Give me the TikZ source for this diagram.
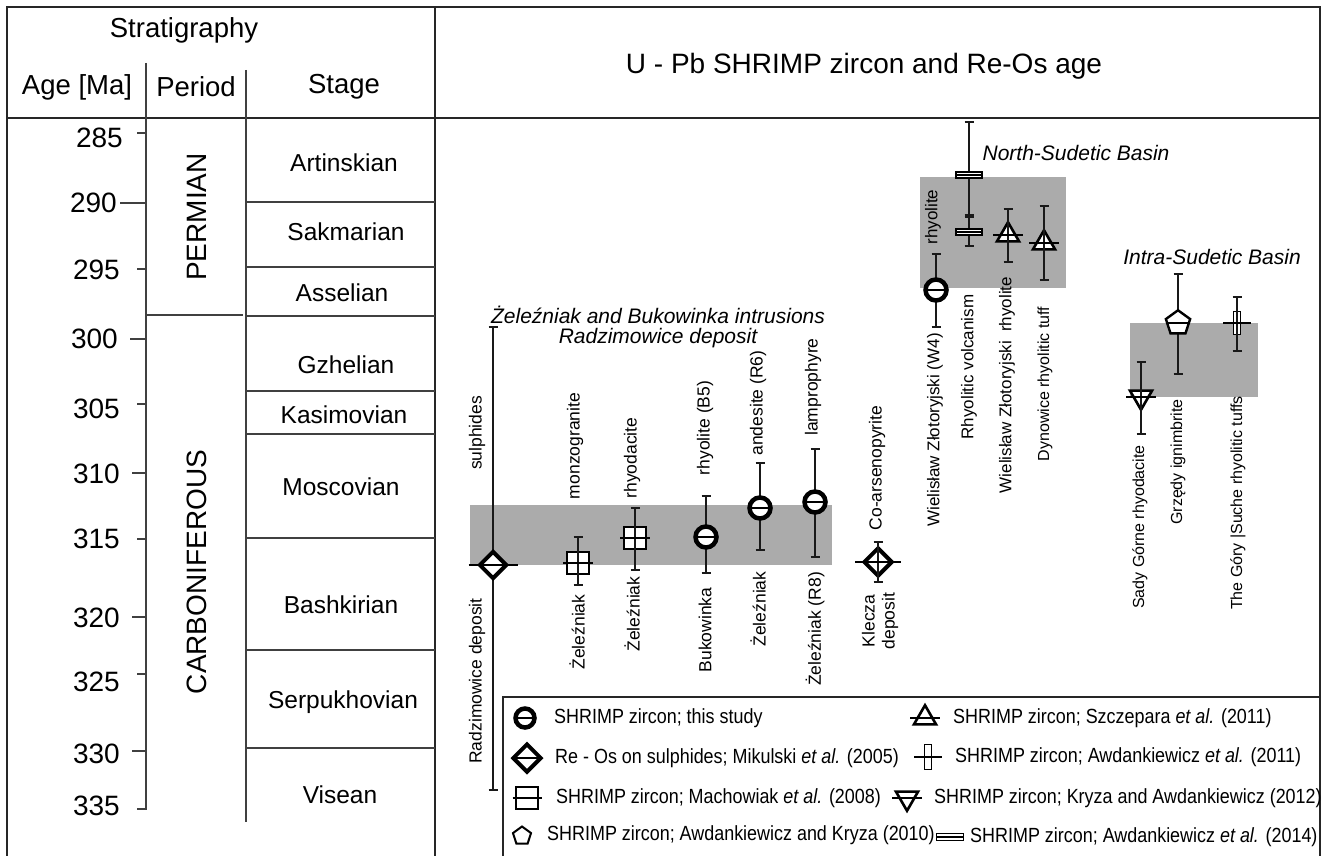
\documentclass[tikz,border=0pt]{standalone}
\usepackage{fontspec}
\setmainfont{Liberation Sans}
\newfontfamily\narrowfont{Liberation Sans}[FakeStretch=0.875]
\usetikzlibrary{shapes.geometric}
\newcommand\ebar[4]{%
  \coordinate (#1t) at (#2,#3);
  \coordinate (#1b) at (#2,#4);
  \draw[bar] (#1t) -- (#1b);
  \draw[bar] ([xshift=-4.5pt]#1t) -- ([xshift=4.5pt]#1t);
  \draw[bar] ([xshift=-4.5pt]#1b) -- ([xshift=4.5pt]#1b);}
\newcommand\midline[2]{%
  \draw[hl] ([xshift=-#2pt]#1.center) -- ([xshift=#2pt]#1.center);}
\begin{document}
\begin{tikzpicture}[x=1pt,y=-1pt,
  frame/.style={line width=2pt, draw=black!85},
  tbl/.style={line width=1.5pt, draw=black!75},
  bar/.style={line width=1.4pt, draw=black!90},
  hl/.style={line width=1.2pt, draw=black},
  band/.style={fill=black!33},
  big/.style={font=\fontsize{27.5}{30}\selectfont},
  num/.style={font=\fontsize{28}{30}\selectfont, anchor=east, inner sep=0pt},
  stage/.style={font=\fontsize{24.5}{28}\selectfont},
  per/.style={font=\fontsize{28}{30}\selectfont, rotate=90},
  ttl/.style={font=\fontsize{21}{25}\selectfont\itshape},
  lab/.style={font=\fontsize{17.5}{20}\selectfont, rotate=90, inner sep=0pt},
  labn/.style={font=\fontsize{17}{20}\selectfont, rotate=90, inner sep=0pt},
  labi/.style={font=\fontsize{16}{20}\selectfont, rotate=90, inner sep=0pt},
  leg/.style={font=\narrowfont\fontsize{20.5}{24}\selectfont, anchor=west, inner sep=0pt},
  circ/.style={circle, draw, line width=4.5pt, fill=white, minimum size=21pt, inner sep=0pt},
  dia/.style={diamond, draw, line width=4pt, fill=white, minimum width=28pt, minimum height=28pt, inner sep=0pt},
  sqr/.style={rectangle, draw, line width=1.3pt, fill=white, minimum size=22pt, inner sep=0pt},
  tri/.style={regular polygon, regular polygon sides=3, draw, line width=2.6pt, fill=white, minimum size=25.5pt, inner sep=0pt},
  itri/.style={tri, shape border rotate=180},
  pent/.style={regular polygon, regular polygon sides=5, draw, line width=2.4pt, fill=white, minimum size=25.5pt, inner sep=0pt},
  vrec/.style={rectangle, draw, line width=1.3pt, fill=white, minimum width=7pt, minimum height=23pt, inner sep=0pt},
  hrec/.style={rectangle, draw, line width=1.3pt, fill=white, minimum width=26pt, minimum height=6pt, inner sep=0pt}]
\useasboundingbox (0,0) rectangle (1327,856);
\fill[white] (0,0) rectangle (1327,856);

% ---------- frame ----------
\draw[frame] (7,856) -- (7,7) -- (1320,7) -- (1320,856);
\draw[frame] (435,7) -- (435,856);
\draw[frame] (7,118) -- (1320,118);

% ---------- stratigraphy table ----------
\node[big] (strat) at (184,30) {Stratigraphy};
\node[big] (agehd) at (77,87) {Age [Ma]};
\node[big] (perhd) at (196,87) {Period};
\node[big] (stghd) at (344,87) {Stage};
\draw[tbl] (146,63) -- (146,810);
\draw[tbl] (246,70) -- (246,822);
\draw[tbl] (146,315) -- (243,315);
\foreach \yy in {202,267,316,391,434,538,650,748}
  \draw[tbl] (246,\yy) -- (435,\yy);
\foreach \yy/\xx in {133/137,203/120,269/137,339/130,404/137,473/132,539/137,617/132,674/137,751/132,809/137}
  \draw[tbl] (\xx,\yy) -- (146,\yy);
\foreach \v/\yy/\xx in {285/138/123,290/203/117,295/270/120,300/339/118,305/409/120,310/474/120,315/539/120,320/618/120,325/682/120,330/754/120,335/806/120}
  \node[num] (age\v) at (\xx,\yy) {\v};
\node[per] (perm) at (197,217) {PERMIAN};
\node[per] (carb) at (197,572) {CARBONIFEROUS};
\node[stage] (st1) at (344,163) {Artinskian};
\node[stage] (st2) at (346,232) {Sakmarian};
\node[stage] (st3) at (342,293) {Asselian};
\node[stage] (st4) at (346,365) {Gzhelian};
\node[stage] (st5) at (344,415) {Kasimovian};
\node[stage] (st6) at (341,487) {Moscovian};
\node[stage] (st7) at (341,605) {Bashkirian};
\node[stage] (st8) at (343,702) {Serpukhovian};
\node[stage] (st9) at (340,795) {Visean};

% ---------- right panel ----------
\node[big, font=\fontsize{28}{30}\selectfont] (title) at (864,66) {U - Pb SHRIMP zircon and Re-Os age};

\fill[band] (470,505) rectangle (832,565);
\fill[band] (920,177) rectangle (1066,288);
\fill[band] (1130,323) rectangle (1258,397);

\node[ttl] (t1) at (658,315) {Żeleźniak and Bukowinka intrusions};
\node[ttl] (t2) at (658,338) {Radzimowice deposit};
\node[ttl] (t3) at (1076,153) {North-Sudetic Basin};
\node[ttl] (t4) at (1212,257) {Intra-Sudetic Basin};

% sulphides (Re-Os)
\ebar{sul}{493}{327}{790}
\node[dia] (sul) at (493,565) {};
\midline{sul}{24.5}
% monzogranite
\node[sqr] (mon) at (578,563) {};
\ebar{mon}{578}{537}{585}
\midline{mon}{15}
% rhyodacite
\node[sqr] (rhd) at (635,538) {};
\ebar{rhd}{635}{508}{570}
\midline{rhd}{15}
% rhyolite B5
\ebar{bfive}{706}{496}{573}
\node[circ] (bfive) at (706,537) {};
\midline{bfive}{8.5}
% andesite R6
\ebar{rsix}{760}{463}{550}
\node[circ] (rsix) at (760,508) {};
\midline{rsix}{8.5}
% lamprophyre R8
\ebar{reight}{815}{449}{557}
\node[circ] (reight) at (815,502) {};
\midline{reight}{8.5}
% Klecza
\node[dia, minimum width=29pt, minimum height=29pt] (kle) at (878,562) {};
\ebar{kle}{878}{542}{582}
\midline{kle}{23}
% W4
\ebar{wfour}{936}{254}{327}
\node[circ] (wfour) at (936,290) {};
\midline{wfour}{8.5}
% Rhyolitic volcanism
\ebar{rvu}{969}{122}{215}
\ebar{rvl}{969}{217}{246}
\node[hrec] (rvu) at (969,175) {};
\midline{rvu}{13}
\node[hrec] (rvl) at (969,232) {};
\midline{rvl}{13}
% Wielislaw rhyolite
\node[tri] (wrh) at (1008,235) {};
\ebar{wrh}{1008}{209}{262}
\midline{wrh}{15}
% Dynowice
\node[tri] (dyn) at (1044,243) {};
\ebar{dyn}{1044}{206}{280}
\midline{dyn}{15}
% Sady Gorne
\node[itri] (sady) at (1141,397) {};
\ebar{sady}{1141}{362}{434}
\midline{sady}{15}
% Grzedy
\ebar{grz}{1178}{274}{374}
\node[pent] (grz) at (1178,323) {};
\midline{grz}{12}
% The Gory Suche
\node[vrec] (gory) at (1237,323) {};
\ebar{gory}{1237}{297}{351}
\midline{gory}{14}

% ---------- rotated labels ----------
\node[lab] (l1) at (477,433) {sulphides};
\node[lab] (l2) at (477,681) {Radzimowice deposit};
\node[lab] (l3) at (575,446) {monzogranite};
\node[lab] (l4) at (577,632) {Żeleźniak};
\node[lab] (l5) at (632,458) {rhyodacite};
\node[lab] (l6) at (632,614) {Żeleźniak};
\node[lab] (l7) at (705,428) {rhyolite (B5)};
\node[lab] (l8) at (705,630) {Bukowinka};
\node[lab] (l9) at (758,403) {andesite (R6)};
\node[lab] (l10) at (758,609) {Żeleźniak};
\node[lab] (l11) at (813,387) {lamprophyre};
\node[lab] (l12) at (815,629) {Żeleźniak (R8)};
\node[lab] (l13) at (877,468) {Co-arsenopyrite};
\node[lab, align=center] (l14) at (880,621) {Klecza\\deposit};
\node[labn] (l15) at (933,217) {rhyolite};
\node[labn] (l16) at (935,430) {Wielisław Złotoryjski (W4)};
\node[labn] (l17) at (969,367) {Rhyolitic volcanism};
\node[labn] (l18) at (1007,385) {Wielisław Złotoryjski\ \ rhyolite};
\node[labi] (l19) at (1045,384) {Dynowice rhyolitic tuff};
\node[labi] (l20) at (1140,527) {Sady Górne rhyodacite};
\node[labi] (l21) at (1178,462) {Grzędy ignimbrite};
\node[labi] (l22) at (1238,503) {The Góry |Suche rhyolitic tuffs};

% ---------- legend ----------
\draw[frame] (503,856) -- (503,697) -- (1320,697);
\node[circ, minimum size=19pt] (lc) at (525,718) {};
\midline{lc}{7.5}
\node[leg] (lct) at (554,718) {SHRIMP zircon; this study};
\node[dia, minimum width=29pt, minimum height=29pt] (ld) at (527,758) {};
\midline{ld}{11}
\node[leg] (ldt) at (555,758) {Re - Os on sulphides; Mikulski \textit{et al.} (2005)};
\node[sqr] (ls) at (527,798) {};
\midline{ls}{14.5}
\node[leg] (lst) at (556,798) {SHRIMP zircon; Machowiak \textit{et al.} (2008)};
\node[pent, minimum size=19pt, line width=2pt] (lp) at (522,836) {};
\node[leg] (lpt) at (547,835) {SHRIMP zircon; Awdankiewicz and Kryza (2010)};
\node[tri] (lt) at (925,718) {};
\midline{lt}{15}
\node[leg] (ltt) at (953,718) {SHRIMP zircon; Szczepara \textit{et al.} (2011)};
\node[vrec, minimum height=25pt] (lv) at (928,757) {};
\midline{lv}{14}
\node[leg] (lvt) at (955,757) {SHRIMP zircon; Awdankiewicz \textit{et al.} (2011)};
\node[itri] (li) at (907,798) {};
\midline{li}{15}
\node[leg] (lit) at (934,798) {SHRIMP zircon; Kryza and Awdankiewicz (2012)};
\node[hrec, minimum width=27pt, minimum height=7pt] (lh) at (950,837) {};
\midline{lh}{13.5}
\node[leg] (lht) at (970,837) {SHRIMP zircon; Awdankiewicz \textit{et al.} (2014)};
\end{tikzpicture}
\end{document}
